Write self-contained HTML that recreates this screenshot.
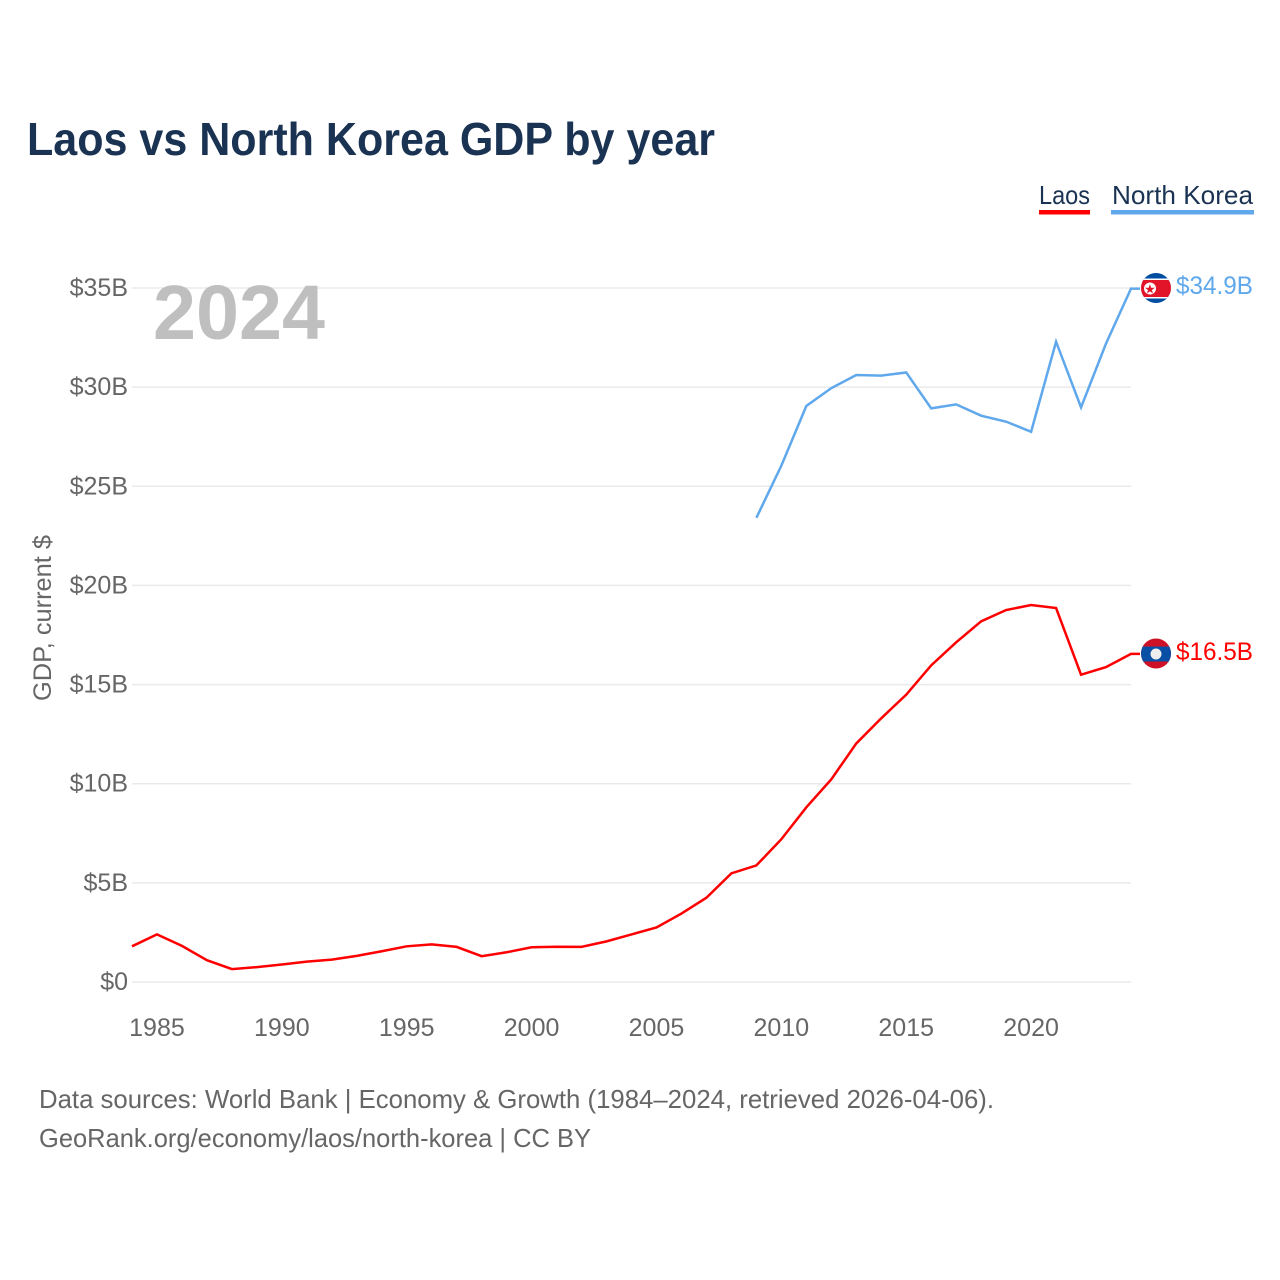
<!DOCTYPE html>
<html lang="en">
<head>
<meta charset="utf-8">
<title>Laos vs North Korea GDP by year</title>
<style>
html,body{margin:0;padding:0;background:#fff;width:1280px;height:1280px;overflow:hidden}
svg{display:block;font-family:"Liberation Sans",sans-serif}
</style>
</head>
<body>
<svg id="chart" width="1280" height="1280" viewBox="0 0 1280 1280" xmlns="http://www.w3.org/2000/svg">
  <defs>
    <clipPath id="clip-kp"><circle cx="1156" cy="288" r="15"/></clipPath>
    <clipPath id="clip-la"><circle cx="1156" cy="653.5" r="15"/></clipPath>
  </defs>
  <text x="27" y="155" font-size="46" font-weight="700" fill="#1a3353" textLength="688" lengthAdjust="spacingAndGlyphs">Laos vs North Korea GDP by year</text>

  <g id="legend">
    <g>
      <text x="1039" y="204" font-size="26" fill="#1a3353" textLength="51" lengthAdjust="spacingAndGlyphs">Laos</text>
      <rect x="1039" y="210" width="51" height="4.5" fill="#ff0000"/>
    </g>
    <g>
      <text x="1112" y="204" font-size="26" fill="#1a3353" textLength="141" lengthAdjust="spacingAndGlyphs">North Korea</text>
      <rect x="1111" y="210" width="143" height="4.5" fill="#60a8ec"/>
    </g>
  </g>

  <g id="grid"></g>
  <g id="yaxis"></g>
  <g id="xaxis"></g>

  <text x="153" y="339" font-size="77" font-weight="700" fill="#bfbfbf" textLength="172" lengthAdjust="spacingAndGlyphs">2024</text>
  <text transform="translate(51,701) rotate(-90)" font-size="25" fill="#666" textLength="166" lengthAdjust="spacingAndGlyphs">GDP, current $</text>

  <g id="series"></g>

  <g clip-path="url(#clip-kp)">
    <rect x="1141" y="273" width="30" height="30" fill="#024fa2"/>
    <rect x="1141" y="278.5" width="30" height="20" fill="#fff"/>
    <rect x="1141" y="280" width="30" height="17" fill="#e2142a"/>
    <circle cx="1150" cy="288.5" r="6" fill="#fff"/>
    <text x="1150" y="293.5" font-size="13" text-anchor="middle" fill="#e2142a">★</text>
  </g>
  <g clip-path="url(#clip-la)">
    <rect x="1141" y="638" width="30" height="31" fill="#ce1126"/>
    <rect x="1141" y="646.5" width="30" height="15" fill="#0a4fa6"/>
    <circle cx="1156" cy="654" r="5.5" fill="#eee"/>
  </g>
  <text id="label-kp" x="1176" y="294" font-size="25" fill="#60a8ec" textLength="77" lengthAdjust="spacingAndGlyphs">$34.9B</text>
  <text id="label-la" x="1176" y="660" font-size="25" fill="#ff0000" textLength="77" lengthAdjust="spacingAndGlyphs">$16.5B</text>

  <g font-size="26" fill="#666">
    <text x="39" y="1108" textLength="955" lengthAdjust="spacingAndGlyphs">Data sources: World Bank | Economy &amp; Growth (1984–2024, retrieved 2026-04-06).</text>
    <text x="39" y="1147" textLength="552" lengthAdjust="spacingAndGlyphs">GeoRank.org/economy/laos/north-korea | CC BY</text>
  </g>
</svg>
<script>
const laosYears = [1984,1985,1986,1987,1988,1989,1990,1991,1992,1993,1994,1995,1996,1997,1998,1999,2000,2001,2002,2003,2004,2005,2006,2007,2008,2009,2010,2011,2012,2013,2014,2015,2016,2017,2018,2019,2020,2021,2022,2023,2024];
const laosValues = [1.8,2.4,1.82,1.1,0.65,0.75,0.88,1.03,1.13,1.32,1.55,1.8,1.9,1.77,1.3,1.5,1.75,1.78,1.77,2.05,2.4,2.75,3.45,4.25,5.48,5.88,7.2,8.81,10.22,12.03,13.3,14.49,15.97,17.13,18.19,18.76,19.01,18.86,15.5,15.88,16.55];
const northKoreaYears = [2009,2010,2011,2012,2013,2014,2015,2016,2017,2018,2019,2020,2021,2022,2023,2024];
const northKoreaValues = [23.41,26.04,29.05,29.95,30.61,30.58,30.74,28.93,29.13,28.56,28.26,27.75,32.29,28.98,32.2,34.97];
const yTickValues = [0,5,10,15,20,25,30,35];
const yTickLabels = ['$0','$5B','$10B','$15B','$20B','$25B','$30B','$35B'];
const xTickValues = [1985,1990,1995,2000,2005,2010,2015,2020];

const NS = 'http://www.w3.org/2000/svg';
const xScale = function (year) { return 132 + (year - 1984) * (1131 - 132) / 40; };
const yScale = function (v) { return 982 - v * (982 - 288) / 35; };

const gridGroup = document.getElementById('grid');
const yGroup = document.getElementById('yaxis');
const xGroup = document.getElementById('xaxis');
const seriesGroup = document.getElementById('series');

yTickValues.forEach(function (v, i) {
  const line = document.createElementNS(NS, 'line');
  
  
  line.setAttribute('x1', 132);
  line.setAttribute('x2', 1131);
  line.setAttribute('y1', yScale(v));
  line.setAttribute('y2', yScale(v));
  line.setAttribute('stroke', '#eaeaea');
  line.setAttribute('stroke-width', '1.5');
  gridGroup.appendChild(line);

  const label = document.createElementNS(NS, 'text');
  
  
  label.setAttribute('x', 128);
  label.setAttribute('y', yScale(v) + 8);
  label.setAttribute('text-anchor', 'end');
  label.setAttribute('font-size', '25');
  label.setAttribute('fill', '#666');
  label.textContent = yTickLabels[i];
  yGroup.appendChild(label);
});

xTickValues.forEach(function (year) {
  const label = document.createElementNS(NS, 'text');
  
  
  label.setAttribute('x', xScale(year));
  label.setAttribute('y', 1036);
  label.setAttribute('text-anchor', 'middle');
  label.setAttribute('font-size', '25');
  label.setAttribute('fill', '#666');
  label.textContent = String(year);
  xGroup.appendChild(label);
});

function pathFrom(years, values) {
  const pts = years.map(function (y, i) {
    return xScale(y).toFixed(2) + ',' + yScale(values[i]).toFixed(2);
  });
  const last = values[values.length - 1];
  pts.push('1140,' + yScale(last).toFixed(2));
  return 'M' + pts.join('L');
}

const laosLine = document.createElementNS(NS, 'path');


laosLine.setAttribute('d', pathFrom(laosYears, laosValues));
laosLine.setAttribute('fill', 'none');
laosLine.setAttribute('stroke', '#ff0000');
laosLine.setAttribute('stroke-width', '2.5');
seriesGroup.appendChild(laosLine);

const koreaLine = document.createElementNS(NS, 'path');


koreaLine.setAttribute('d', pathFrom(northKoreaYears, northKoreaValues));
koreaLine.setAttribute('fill', 'none');
koreaLine.setAttribute('stroke', '#60a8ec');
koreaLine.setAttribute('stroke-width', '2.5');
seriesGroup.appendChild(koreaLine);
</script>
</body>
</html>
